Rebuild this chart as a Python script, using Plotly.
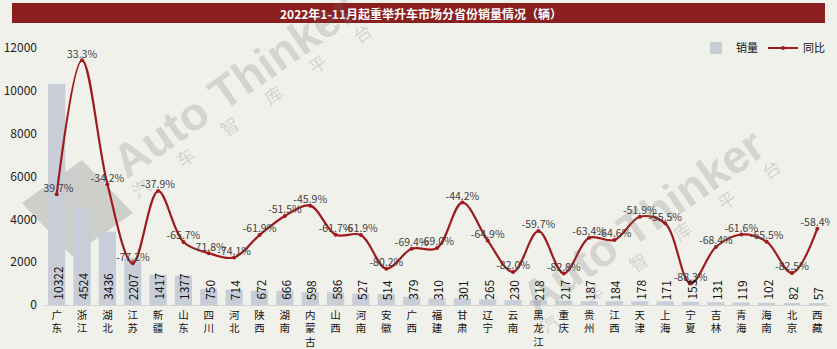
import plotly.graph_objects as go

# 2022年1-11月起重举升车 各省份销量与同比
provinces = ["广东", "浙江", "湖北", "江苏", "新疆", "山东", "四川", "河北", "陕西", "湖南",
             "内蒙古", "山西", "河南", "安徽", "广西", "福建", "甘肃", "辽宁", "云南", "黑龙江",
             "重庆", "贵州", "江西", "天津", "上海", "宁夏", "吉林", "青海", "海南", "北京", "西藏"]
sales = [10322, 4524, 3436, 2207, 1417, 1377, 750, 714, 672, 666,
         598, 586, 527, 514, 379, 310, 301, 265, 230, 218,
         217, 187, 184, 178, 171, 153, 131, 119, 102, 82, 57]
yoy = [-39.7, 33.3, -34.2, -77.2, -37.9, -65.7, -71.8, -74.1, -61.9, -51.5,
       -45.9, -61.7, -61.9, -80.2, -69.4, -69.0, -44.2, -64.9, -82.0, -59.7,
       -82.8, -63.4, -64.6, -51.9, -55.5, -88.3, -68.4, -61.6, -65.5, -82.5, -58.4]
y_ticks = [0, 2000, 4000, 6000, 8000, 10000, 12000]

BG = "#F1F1EC"
BAR = "#C9CDD8"
LINE = "#9E1B1E"
BANNER = "#8B1E1F"
FONT = "Noto Sans CJK SC, Noto Sans, sans-serif"

# vertical category labels: one character per line
tick_text = ["<br>".join(list(p)) for p in provinces]

fig = go.Figure()

fig.add_trace(go.Bar(
    x=provinces, y=sales, name="销量",
    marker=dict(color=BAR, line=dict(width=0)),
))

fig.add_trace(go.Scatter(
    x=provinces, y=yoy, name="同比", yaxis="y2",
    mode="lines+markers",
    line=dict(color=LINE, width=2.2, shape="spline", smoothing=1.0),
    marker=dict(color=LINE, size=4),
))

fig.add_trace(go.Scatter(
    x=provinces, y=yoy, yaxis="y2", mode="text", showlegend=False,
    text=[f"{v:.1f}%" for v in yoy], textposition="top center",
    textfont=dict(size=10.5, color="#404040", family=FONT),
    hoverinfo="skip",
))

annotations = []
# sales values written upward from the base of each bar
for p, s in zip(provinces, sales):
    annotations.append(dict(
        x=p, y=0, xref="x", yref="y", text=str(s), textangle=-90,
        showarrow=False, xanchor="center", yanchor="bottom", yshift=3,
        font=dict(size=12, color="#111111", family=FONT),
    ))

# title banner text
annotations.append(dict(
    x=0.48, y=1.136, xref="paper", yref="paper", showarrow=False,
    text="<b>2022年1-11月起重举升车市场分省份销量情况（辆）</b>",
    font=dict(size=12, color="white", family=FONT),
    xanchor="center", yanchor="middle",
))

# watermarks
wm = "rgba(110,110,110,0.24)"
for dx, dy in [(0.0, 0.0), (0.52, -0.53)]:
    annotations.append(dict(
        x=0.2417 + dx, y=0.856 + dy, xref="paper", yref="paper", showarrow=False,
        xanchor="center", yanchor="middle",
        text="<b>Auto Thinker</b>", textangle=-35,
        font=dict(size=46, color=wm, family="Liberation Sans, Arial"),
    ))
    annotations.append(dict(
        x=0.2634 + dx, y=0.759 + dy, xref="paper", yref="paper", showarrow=False,
        xanchor="center", yanchor="middle",
        text="汽　　车　　智　　库　　平　　台", textangle=-35,
        font=dict(size=18, color=wm, family=FONT),
    ))

shapes = [
    dict(
        type="rect", xref="paper", yref="paper",
        x0=-0.0407, x1=0.9936, y0=1.097, y1=1.175,
        fillcolor=BANNER, line=dict(width=0), layer="below",
    ),
    # watermark logo tile
    dict(
        type="path", xref="paper", yref="paper", layer="below",
        path="M -0.028 0.397 L 0.0483 0.564 L 0.1132 0.358 L 0.0356 0.191 Z",
        fillcolor="rgba(110,110,110,0.26)", line=dict(width=0),
    ),
]

fig.update_layout(
    width=837, height=349,
    margin=dict(l=44, r=7, t=48, b=44, autoexpand=False),
    paper_bgcolor=BG, plot_bgcolor=BG,
    font=dict(family=FONT, color="#222222"),
    bargap=0.32,
    showlegend=True,
    legend=dict(
        orientation="h", x=1.0, y=1.0, xanchor="right", yanchor="middle",
        bgcolor="rgba(0,0,0,0)", font=dict(size=11, color="#111111"),
        itemwidth=30, tracegroupgap=0,
    ),
    xaxis=dict(
        range=[-0.5, len(provinces) - 0.5],
        tickmode="array", tickvals=provinces, ticktext=tick_text,
        tickfont=dict(size=10.5, color="#111111", family=FONT),
        showgrid=False, showline=True, linecolor="#D4D4D4", linewidth=1,
        ticks="", zeroline=False, fixedrange=True, automargin=False,
    ),
    yaxis=dict(
        range=[0, 12000], tickmode="array", tickvals=y_ticks,
        ticktext=[str(t) for t in y_ticks],
        tickfont=dict(size=12, color="#222222", family=FONT),
        showgrid=False, zeroline=False, showline=False, ticks="",
        ticklabelstandoff=6, automargin=False,
    ),
    yaxis2=dict(
        range=[-100, 40], overlaying="y", side="right", visible=False,
        showgrid=False, zeroline=False,
    ),
    shapes=shapes,
    annotations=annotations,
)

fig.write_html("out.html")
